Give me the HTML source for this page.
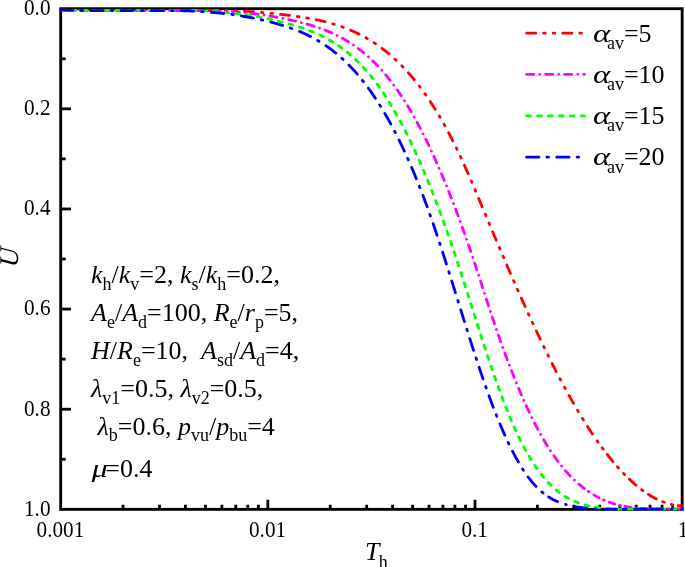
<!DOCTYPE html>
<html><head><meta charset="utf-8"><title>U - Th</title>
<style>
html,body{margin:0;padding:0;background:#fff;}
svg{display:block;}
text{font-family:"Liberation Serif","Times New Roman",serif;fill:#000;}
.t{font-size:22px;}
.m{font-size:26px;}
.i{font-style:italic;}
.s{font-size:18px;font-style:normal;}
</style></head><body>
<svg width="685" height="567" viewBox="0 0 685 567">
<rect x="0" y="0" width="685" height="567" fill="#fff"/>

<g stroke="#000" stroke-width="2.85" fill="none" stroke-linecap="butt">
<rect x="60.7" y="8.7" width="621.45" height="500.65"/>
</g>
<g stroke="#000" stroke-width="2.8" fill="none">
<line x1="123.06" y1="509.35" x2="123.06" y2="504.75"/>
<line x1="159.54" y1="509.35" x2="159.54" y2="504.75"/>
<line x1="185.42" y1="509.35" x2="185.42" y2="504.75"/>
<line x1="205.49" y1="509.35" x2="205.49" y2="504.75"/>
<line x1="221.89" y1="509.35" x2="221.89" y2="504.75"/>
<line x1="235.76" y1="509.35" x2="235.76" y2="504.75"/>
<line x1="247.78" y1="509.35" x2="247.78" y2="504.75"/>
<line x1="258.37" y1="509.35" x2="258.37" y2="504.75"/>
<line x1="267.85" y1="509.35" x2="267.85" y2="499.75"/>
<line x1="330.21" y1="509.35" x2="330.21" y2="504.75"/>
<line x1="366.69" y1="509.35" x2="366.69" y2="504.75"/>
<line x1="392.57" y1="509.35" x2="392.57" y2="504.75"/>
<line x1="412.64" y1="509.35" x2="412.64" y2="504.75"/>
<line x1="429.04" y1="509.35" x2="429.04" y2="504.75"/>
<line x1="442.91" y1="509.35" x2="442.91" y2="504.75"/>
<line x1="454.93" y1="509.35" x2="454.93" y2="504.75"/>
<line x1="465.52" y1="509.35" x2="465.52" y2="504.75"/>
<line x1="475.00" y1="509.35" x2="475.00" y2="499.75"/>
<line x1="537.36" y1="509.35" x2="537.36" y2="504.75"/>
<line x1="573.84" y1="509.35" x2="573.84" y2="504.75"/>
<line x1="599.72" y1="509.35" x2="599.72" y2="504.75"/>
<line x1="619.79" y1="509.35" x2="619.79" y2="504.75"/>
<line x1="636.19" y1="509.35" x2="636.19" y2="504.75"/>
<line x1="650.06" y1="509.35" x2="650.06" y2="504.75"/>
<line x1="662.08" y1="509.35" x2="662.08" y2="504.75"/>
<line x1="672.67" y1="509.35" x2="672.67" y2="504.75"/>
<line x1="60.7" y1="58.77" x2="65.7" y2="58.77"/>
<line x1="60.7" y1="108.83" x2="71.0" y2="108.83"/>
<line x1="60.7" y1="158.89" x2="65.7" y2="158.89"/>
<line x1="60.7" y1="208.96" x2="71.0" y2="208.96"/>
<line x1="60.7" y1="259.02" x2="65.7" y2="259.02"/>
<line x1="60.7" y1="309.09" x2="71.0" y2="309.09"/>
<line x1="60.7" y1="359.16" x2="65.7" y2="359.16"/>
<line x1="60.7" y1="409.22" x2="71.0" y2="409.22"/>
<line x1="60.7" y1="459.29" x2="65.7" y2="459.29"/>
</g>
<clipPath id="c"><rect x="59.300000000000004" y="8.75" width="624.15" height="502.00"/></clipPath>
<g clip-path="url(#c)" fill="none" stroke-width="2.8" stroke-linecap="round" stroke-linejoin="round">
<path d="M60.70,10.02 L62.20,10.06 L63.70,10.09 L65.20,10.12 L66.70,10.15 L68.20,10.18 L69.70,10.20 L71.20,10.23 L72.70,10.25 L74.20,10.27 L75.70,10.29 L77.20,10.30 L78.70,10.32 L80.20,10.33 L81.70,10.34 L83.20,10.35 L84.70,10.36 L86.20,10.36 L87.70,10.37 L89.20,10.37 L90.70,10.38 L92.20,10.38 L93.70,10.38 L95.20,10.38 L96.70,10.38 L98.20,10.38 L99.70,10.38 L101.20,10.38 L102.70,10.38 L104.20,10.38 L105.70,10.38 L107.20,10.38 L108.70,10.38 L110.20,10.38 L111.70,10.38 L113.20,10.38 L114.70,10.38 L116.20,10.38 L117.70,10.38 L119.20,10.38 L120.70,10.38 L122.20,10.38 L123.70,10.38 L125.20,10.38 L126.70,10.38 L128.20,10.38 L129.70,10.38 L131.20,10.38 L132.70,10.38 L134.20,10.38 L135.70,10.38 L137.20,10.38 L138.70,10.38 L140.20,10.38 L141.70,10.38 L143.20,10.38 L144.70,10.38 L146.20,10.38 L147.70,10.38 L149.20,10.38 L150.70,10.38 L152.20,10.38 L153.70,10.38 L155.20,10.38 L156.70,10.38 L158.20,10.38 L159.70,10.38 L161.20,10.38 L162.70,10.38 L164.20,10.38 L165.70,10.38 L167.20,10.38 L168.70,10.38 L170.20,10.38 L171.70,10.38 L173.20,10.38 L174.70,10.38 L176.20,10.38 L177.70,10.38 L179.20,10.38 L180.70,10.38 L182.20,10.38 L183.70,10.38 L185.20,10.38 L186.70,10.38 L188.20,10.38 L189.70,10.38 L191.20,10.38 L192.70,10.38 L194.20,10.38 L195.70,10.38 L197.20,10.38 L198.70,10.38 L200.20,10.38 L201.70,10.38 L203.20,10.38 L204.70,10.38 L206.20,10.38 L207.70,10.38 L209.20,10.38 L210.70,10.38 L212.20,10.38 L213.70,10.38 L215.20,10.38 L216.70,10.38 L218.20,10.38 L219.70,10.38 L221.20,10.38 L222.70,10.38 L224.20,10.38 L225.70,10.38 L227.20,10.42 L228.70,10.47 L230.19,10.53 L231.69,10.60 L233.19,10.66 L234.69,10.73 L236.19,10.80 L237.69,10.87 L239.18,10.95 L240.68,11.03 L242.18,11.11 L243.68,11.20 L245.18,11.28 L246.67,11.37 L248.17,11.47 L249.67,11.57 L251.16,11.67 L252.66,11.77 L254.16,11.87 L255.65,11.98 L257.15,12.10 L258.64,12.21 L260.14,12.33 L261.63,12.45 L263.13,12.58 L264.62,12.71 L266.12,12.84 L267.61,12.98 L269.10,13.12 L270.60,13.26 L272.09,13.41 L273.58,13.56 L275.07,13.72 L276.57,13.88 L278.06,14.04 L279.55,14.20 L281.04,14.37 L282.53,14.55 L284.02,14.72 L285.51,14.91 L286.99,15.09 L288.48,15.28 L289.97,15.48 L291.46,15.67 L292.94,15.88 L294.43,16.08 L295.91,16.29 L297.40,16.51 L298.88,16.73 L300.37,16.95 L301.85,17.18 L303.33,17.41 L304.81,17.65 L306.29,17.90 L307.77,18.15 L309.25,18.41 L310.72,18.68 L312.20,18.96 L313.67,19.24 L315.14,19.53 L316.61,19.83 L318.08,20.14 L319.54,20.46 L321.01,20.79 L322.47,21.12 L323.93,21.47 L325.38,21.83 L326.84,22.20 L328.29,22.58 L329.74,22.97 L331.18,23.38 L332.62,23.79 L334.06,24.22 L335.50,24.66 L336.93,25.11 L338.35,25.57 L339.77,26.05 L341.19,26.54 L342.60,27.05 L344.01,27.56 L345.42,28.09 L346.81,28.64 L348.21,29.19 L349.59,29.76 L350.98,30.35 L352.35,30.94 L353.72,31.56 L355.09,32.18 L356.44,32.82 L357.79,33.47 L359.14,34.14 L360.47,34.82 L361.80,35.51 L363.13,36.22 L364.44,36.94 L365.75,37.67 L367.05,38.42 L368.35,39.18 L369.63,39.95 L370.91,40.74 L372.18,41.54 L373.44,42.35 L374.69,43.17 L375.94,44.01 L377.18,44.86 L378.40,45.72 L379.62,46.59 L380.84,47.47 L382.04,48.37 L383.24,49.27 L384.42,50.19 L385.60,51.12 L386.77,52.06 L387.93,53.01 L389.08,53.97 L390.23,54.94 L391.36,55.92 L392.49,56.91 L393.61,57.91 L394.72,58.92 L395.82,59.94 L396.91,60.97 L397.99,62.00 L399.07,63.05 L400.13,64.10 L401.19,65.17 L402.24,66.24 L403.28,67.32 L404.32,68.40 L405.34,69.50 L406.36,70.60 L407.37,71.71 L408.37,72.83 L409.36,73.95 L410.35,75.08 L411.33,76.22 L412.30,77.37 L413.26,78.52 L414.21,79.67 L415.16,80.84 L416.10,82.01 L417.03,83.18 L417.96,84.36 L418.87,85.55 L419.79,86.74 L420.69,87.94 L421.59,89.14 L422.48,90.35 L423.36,91.56 L424.23,92.78 L425.10,94.00 L425.97,95.23 L426.82,96.46 L427.67,97.70 L428.52,98.94 L429.35,100.18 L430.19,101.43 L431.01,102.68 L431.83,103.94 L432.64,105.20 L433.45,106.46 L434.25,107.73 L435.05,109.00 L435.84,110.28 L436.62,111.56 L437.40,112.84 L438.17,114.12 L438.94,115.41 L439.71,116.70 L440.46,118.00 L441.22,119.29 L441.96,120.60 L442.71,121.90 L443.44,123.20 L444.18,124.51 L444.90,125.83 L445.63,127.14 L446.34,128.46 L447.06,129.78 L447.77,131.10 L448.47,132.42 L449.17,133.75 L449.87,135.08 L450.56,136.41 L451.24,137.74 L451.93,139.08 L452.60,140.42 L453.28,141.76 L453.95,143.10 L454.61,144.44 L455.28,145.79 L455.93,147.14 L456.59,148.49 L457.24,149.84 L457.88,151.19 L458.53,152.55 L459.17,153.91 L459.80,155.26 L460.43,156.62 L461.06,157.99 L461.69,159.35 L462.31,160.71 L462.94,162.08 L463.55,163.44 L464.17,164.81 L464.78,166.18 L465.39,167.55 L466.00,168.92 L466.61,170.29 L467.21,171.67 L467.82,173.04 L468.42,174.41 L469.02,175.79 L469.62,177.16 L470.21,178.54 L470.81,179.92 L471.40,181.30 L471.99,182.67 L472.58,184.05 L473.17,185.43 L473.76,186.81 L474.35,188.19 L474.93,189.57 L475.52,190.95 L476.10,192.34 L476.69,193.72 L477.27,195.10 L477.85,196.48 L478.43,197.87 L479.01,199.25 L479.59,200.63 L480.17,202.01 L480.75,203.40 L481.33,204.78 L481.91,206.16 L482.49,207.55 L483.07,208.93 L483.65,210.32 L484.23,211.70 L484.81,213.08 L485.39,214.47 L485.97,215.85 L486.55,217.23 L487.13,218.62 L487.71,220.00 L488.29,221.38 L488.87,222.77 L489.45,224.15 L490.03,225.53 L490.62,226.91 L491.20,228.30 L491.78,229.68 L492.36,231.06 L492.95,232.44 L493.53,233.82 L494.11,235.21 L494.70,236.59 L495.28,237.97 L495.87,239.35 L496.45,240.73 L497.04,242.11 L497.62,243.49 L498.21,244.87 L498.80,246.26 L499.38,247.64 L499.97,249.02 L500.56,250.40 L501.15,251.78 L501.74,253.15 L502.33,254.53 L502.92,255.91 L503.51,257.29 L504.10,258.67 L504.69,260.05 L505.28,261.43 L505.87,262.81 L506.47,264.18 L507.06,265.56 L507.65,266.94 L508.25,268.32 L508.84,269.69 L509.44,271.07 L510.04,272.44 L510.63,273.82 L511.23,275.20 L511.83,276.57 L512.43,277.95 L513.03,279.32 L513.63,280.70 L514.23,282.07 L514.83,283.44 L515.44,284.82 L516.04,286.19 L516.65,287.56 L517.25,288.94 L517.86,290.31 L518.46,291.68 L519.07,293.05 L519.68,294.42 L520.29,295.79 L520.90,297.16 L521.51,298.53 L522.12,299.90 L522.73,301.27 L523.35,302.64 L523.96,304.01 L524.58,305.38 L525.19,306.74 L525.81,308.11 L526.43,309.48 L527.05,310.84 L527.67,312.21 L528.29,313.57 L528.92,314.94 L529.54,316.30 L530.16,317.67 L530.79,319.03 L531.42,320.39 L532.04,321.75 L532.67,323.12 L533.30,324.48 L533.94,325.84 L534.57,327.20 L535.20,328.56 L535.84,329.92 L536.48,331.27 L537.11,332.63 L537.75,333.99 L538.39,335.34 L539.04,336.70 L539.68,338.06 L540.32,339.41 L540.97,340.76 L541.62,342.12 L542.27,343.47 L542.92,344.82 L543.57,346.17 L544.22,347.52 L544.88,348.87 L545.54,350.22 L546.19,351.57 L546.85,352.91 L547.52,354.26 L548.18,355.61 L548.85,356.95 L549.51,358.29 L550.18,359.64 L550.85,360.98 L551.52,362.32 L552.20,363.66 L552.87,365.00 L553.55,366.34 L554.23,367.67 L554.91,369.01 L555.60,370.34 L556.28,371.68 L556.97,373.01 L557.66,374.34 L558.35,375.67 L559.05,377.00 L559.75,378.33 L560.44,379.66 L561.15,380.98 L561.85,382.31 L562.56,383.63 L563.26,384.95 L563.98,386.27 L564.69,387.59 L565.41,388.91 L566.12,390.23 L566.84,391.54 L567.57,392.86 L568.30,394.17 L569.02,395.48 L569.76,396.79 L570.49,398.10 L571.23,399.40 L571.97,400.71 L572.71,402.01 L573.46,403.31 L574.21,404.61 L574.96,405.91 L575.72,407.20 L576.48,408.50 L577.24,409.79 L578.01,411.08 L578.77,412.37 L579.55,413.65 L580.32,414.94 L581.10,416.22 L581.88,417.50 L582.67,418.78 L583.46,420.05 L584.25,421.32 L585.05,422.60 L585.85,423.86 L586.66,425.13 L587.46,426.39 L588.28,427.65 L589.09,428.91 L589.91,430.17 L590.74,431.42 L591.57,432.67 L592.40,433.92 L593.24,435.16 L594.08,436.40 L594.93,437.64 L595.50,438.46" stroke="#ff0000" stroke-dasharray="9.1 7.95 1.6 7.95 1.6 7.95" stroke-dashoffset="-3.0"/>
<path d="M595.50,438.46 L596.35,439.70 L597.21,440.93 L598.08,442.15 L598.94,443.37 L599.82,444.59 L600.70,445.81 L601.58,447.02 L602.47,448.23 L603.37,449.43 L604.27,450.63 L605.18,451.83 L606.09,453.02 L607.01,454.20 L607.93,455.38 L608.86,456.56 L609.80,457.73 L610.74,458.90 L611.69,460.06 L612.64,461.22 L613.60,462.37 L614.57,463.51 L615.55,464.65 L616.53,465.79 L617.52,466.91 L618.52,468.03 L619.52,469.15 L620.54,470.25 L621.56,471.35 L622.59,472.44 L623.62,473.53 L624.67,474.60 L625.72,475.67 L626.78,476.73 L627.86,477.78 L628.94,478.82 L630.03,479.85 L631.13,480.87 L632.23,481.88 L633.35,482.88 L634.48,483.87 L635.62,484.85 L636.77,485.81 L637.93,486.76 L639.10,487.70 L640.28,488.63 L641.47,489.54 L642.68,490.43 L643.89,491.31 L645.12,492.17 L646.36,493.02 L647.61,493.84 L648.87,494.65 L650.15,495.44 L651.44,496.21 L652.74,496.96 L654.05,497.69 L655.37,498.39 L656.71,499.07 L658.06,499.72 L659.42,500.35 L660.80,500.95 L662.19,501.52 L663.58,502.06 L664.99,502.57 L666.42,503.05 L667.85,503.50 L669.29,503.91 L670.74,504.29 L672.20,504.63 L673.67,504.93 L675.15,505.20 L676.63,505.42 L678.12,505.61 L679.61,505.75 L681.11,505.86 L682.61,505.92 L682.64,505.92" stroke="#ff0000" stroke-dasharray="1.6 7.0 1.6 6.75 9.1 6.85 1.6 7.4 1.6 6.55 9.1 7.15 1.6 6.65 9.1 7.05 1.6 7.35 1.6 5.4 9.1 60" stroke-dashoffset="-2.90"/>
<path d="M60.70,9.90 L62.20,9.92 L63.70,9.98 L65.20,10.04 L66.70,10.09 L68.20,10.14 L69.69,10.19 L71.19,10.23 L72.69,10.27 L74.19,10.31 L75.69,10.34 L77.19,10.38 L78.69,10.40 L80.19,10.43 L81.69,10.46 L83.19,10.48 L84.69,10.50 L86.19,10.51 L87.69,10.53 L89.19,10.54 L90.69,10.55 L92.19,10.56 L93.69,10.56 L95.19,10.56 L96.69,10.57 L98.19,10.57 L99.69,10.57 L101.19,10.57 L102.69,10.57 L104.19,10.57 L105.69,10.57 L107.19,10.57 L108.69,10.57 L110.19,10.57 L111.69,10.57 L113.19,10.57 L114.69,10.57 L116.19,10.57 L117.69,10.57 L119.19,10.57 L120.69,10.57 L122.19,10.57 L123.69,10.57 L125.19,10.57 L126.69,10.57 L128.19,10.57 L129.69,10.57 L131.19,10.57 L132.69,10.57 L134.19,10.57 L135.69,10.57 L137.19,10.57 L138.69,10.57 L140.19,10.57 L141.69,10.57 L143.19,10.57 L144.69,10.57 L146.19,10.57 L147.69,10.57 L149.19,10.57 L150.69,10.57 L152.19,10.57 L153.69,10.57 L155.19,10.57 L156.69,10.57 L158.19,10.57 L159.69,10.57 L161.19,10.57 L162.69,10.57 L164.19,10.57 L165.69,10.57 L167.19,10.57 L168.69,10.57 L170.19,10.57 L171.69,10.57 L173.19,10.57 L174.69,10.57 L176.19,10.57 L177.69,10.57 L179.19,10.57 L180.69,10.57 L182.19,10.57 L183.69,10.57 L185.19,10.57 L186.69,10.57 L188.19,10.57 L189.69,10.57 L191.19,10.57 L192.69,10.57 L194.19,10.57 L195.69,10.57 L197.19,10.57 L198.69,10.57 L200.19,10.57 L201.69,10.57 L203.19,10.57 L204.69,10.57 L206.19,10.57 L207.69,10.57 L209.19,10.57 L210.69,10.57 L212.19,10.57 L213.69,10.57 L215.19,10.57 L216.69,10.59 L218.19,10.66 L219.69,10.74 L221.18,10.82 L222.68,10.91 L224.18,11.00 L225.68,11.10 L227.17,11.19 L228.67,11.30 L230.17,11.40 L231.66,11.51 L233.16,11.63 L234.65,11.75 L236.15,11.87 L237.64,12.00 L239.14,12.13 L240.63,12.27 L242.12,12.41 L243.62,12.56 L245.11,12.71 L246.60,12.87 L248.09,13.03 L249.58,13.19 L251.07,13.36 L252.56,13.54 L254.05,13.72 L255.54,13.91 L257.03,14.10 L258.51,14.30 L260.00,14.50 L261.49,14.71 L262.97,14.92 L264.45,15.14 L265.94,15.37 L267.42,15.60 L268.90,15.83 L270.38,16.07 L271.86,16.32 L273.34,16.58 L274.82,16.84 L276.29,17.10 L277.77,17.37 L279.24,17.65 L280.72,17.93 L282.19,18.22 L283.66,18.52 L285.13,18.82 L286.59,19.13 L288.06,19.44 L289.53,19.76 L290.99,20.09 L292.45,20.42 L293.91,20.76 L295.37,21.11 L296.83,21.46 L298.29,21.82 L299.74,22.19 L301.20,22.56 L302.65,22.94 L304.10,23.33 L305.54,23.72 L306.99,24.12 L308.43,24.53 L309.87,24.95 L311.31,25.38 L312.74,25.82 L314.17,26.27 L315.60,26.73 L317.02,27.21 L318.44,27.69 L319.86,28.18 L321.27,28.69 L322.68,29.21 L324.08,29.74 L325.48,30.29 L326.87,30.85 L328.26,31.42 L329.64,32.00 L331.02,32.60 L332.38,33.21 L333.75,33.84 L335.10,34.48 L336.45,35.14 L337.80,35.80 L339.13,36.49 L340.46,37.19 L341.78,37.90 L343.09,38.63 L344.39,39.37 L345.69,40.12 L346.98,40.89 L348.26,41.67 L349.53,42.47 L350.79,43.28 L352.04,44.11 L353.29,44.95 L354.52,45.80 L355.74,46.67 L356.96,47.54 L358.17,48.44 L359.36,49.34 L360.55,50.26 L361.73,51.19 L362.90,52.13 L364.05,53.08 L365.20,54.04 L366.34,55.02 L367.47,56.01 L368.59,57.01 L369.70,58.02 L370.80,59.03 L371.89,60.06 L372.97,61.10 L374.05,62.15 L375.11,63.21 L376.16,64.28 L377.20,65.36 L378.24,66.44 L379.26,67.54 L380.28,68.64 L381.29,69.75 L382.28,70.87 L383.27,72.00 L384.25,73.14 L385.23,74.28 L386.19,75.43 L387.14,76.59 L388.09,77.75 L389.03,78.92 L389.96,80.10 L390.88,81.28 L391.79,82.47 L392.70,83.67 L393.60,84.87 L394.49,86.08 L395.37,87.29 L396.25,88.51 L397.11,89.73 L397.97,90.96 L398.83,92.19 L399.67,93.43 L400.51,94.67 L401.34,95.92 L402.17,97.17 L402.99,98.43 L403.80,99.69 L404.61,100.96 L405.41,102.23 L406.20,103.50 L406.99,104.78 L407.77,106.06 L408.54,107.34 L409.31,108.63 L410.07,109.92 L410.83,111.22 L411.58,112.51 L412.33,113.81 L413.07,115.12 L413.81,116.42 L414.54,117.73 L415.27,119.04 L415.99,120.36 L416.71,121.68 L417.42,123.00 L418.13,124.32 L418.84,125.64 L419.54,126.97 L420.23,128.30 L420.92,129.63 L421.61,130.96 L422.29,132.30 L422.97,133.64 L423.65,134.98 L424.32,136.32 L424.99,137.66 L425.65,139.00 L426.31,140.35 L426.97,141.70 L427.62,143.05 L428.27,144.40 L428.92,145.76 L429.56,147.11 L430.20,148.47 L430.84,149.83 L431.47,151.19 L432.10,152.55 L432.73,153.91 L433.35,155.28 L433.97,156.64 L434.59,158.01 L435.20,159.38 L435.81,160.75 L436.42,162.12 L437.03,163.49 L437.63,164.86 L438.23,166.24 L438.83,167.61 L439.43,168.99 L440.02,170.37 L440.61,171.75 L441.20,173.13 L441.78,174.51 L442.36,175.89 L442.94,177.27 L443.52,178.66 L444.10,180.04 L444.67,181.43 L445.24,182.82 L445.81,184.20 L446.37,185.59 L446.94,186.98 L447.50,188.37 L448.06,189.77 L448.61,191.16 L449.17,192.55 L449.72,193.95 L450.27,195.34 L450.82,196.74 L451.37,198.14 L451.91,199.53 L452.46,200.93 L453.00,202.33 L453.54,203.73 L454.07,205.13 L454.61,206.53 L455.14,207.93 L455.67,209.34 L456.20,210.74 L456.73,212.14 L457.25,213.55 L457.78,214.96 L458.30,216.36 L458.82,217.77 L459.34,219.18 L459.86,220.58 L460.37,221.99 L460.89,223.40 L461.40,224.81 L461.91,226.22 L462.42,227.63 L462.92,229.04 L463.43,230.46 L463.93,231.87 L464.44,233.28 L464.94,234.70 L465.44,236.11 L465.93,237.53 L466.43,238.94 L466.93,240.36 L467.42,241.77 L467.91,243.19 L468.40,244.61 L468.89,246.03 L469.38,247.45 L469.86,248.86 L470.35,250.28 L470.83,251.70 L471.32,253.12 L471.80,254.55 L472.28,255.97 L472.75,257.39 L473.23,258.81 L473.71,260.23 L474.18,261.66 L474.65,263.08 L475.13,264.50 L475.60,265.93 L476.07,267.35 L476.53,268.78 L477.00,270.20 L477.47,271.63 L477.93,273.05 L478.40,274.48 L478.86,275.91 L479.32,277.33 L479.78,278.76 L480.24,280.19 L480.71,281.62 L481.17,283.04 L481.63,284.47 L482.09,285.90 L482.55,287.33 L483.01,288.76 L483.47,290.18 L483.92,291.61 L484.38,293.04 L484.85,294.47 L485.31,295.89 L485.77,297.32 L486.23,298.75 L486.69,300.18 L487.15,301.60 L487.62,303.03 L488.08,304.46 L488.54,305.88 L489.01,307.31 L489.48,308.73 L489.95,310.16 L490.42,311.58 L490.89,313.01 L491.36,314.43 L491.83,315.85 L492.31,317.28 L492.78,318.70 L493.26,320.12 L493.74,321.54 L494.22,322.96 L494.70,324.38 L495.18,325.80 L495.67,327.22 L496.15,328.64 L496.64,330.06 L497.13,331.48 L497.62,332.90 L498.12,334.31 L498.61,335.73 L499.11,337.15 L499.60,338.56 L500.10,339.98 L500.60,341.39 L501.11,342.80 L501.61,344.21 L502.12,345.63 L502.62,347.04 L503.13,348.45 L503.65,349.86 L504.16,351.27 L504.68,352.68 L505.19,354.08 L505.71,355.49 L506.23,356.90 L506.76,358.30 L507.29,359.71 L507.81,361.11 L508.34,362.51 L508.88,363.92 L509.41,365.32 L509.95,366.72 L510.49,368.12 L511.03,369.52 L511.58,370.91 L512.12,372.31 L512.67,373.71 L513.22,375.10 L513.78,376.50 L514.34,377.89 L514.90,379.28 L515.46,380.67 L516.03,382.06 L516.59,383.45 L517.16,384.83 L517.74,386.22 L518.32,387.60 L518.90,388.99 L519.48,390.37 L520.07,391.75 L520.66,393.13 L521.25,394.51 L521.84,395.88 L522.44,397.26 L523.05,398.63 L523.65,400.00 L524.26,401.37 L524.88,402.74 L525.49,404.11 L526.12,405.48 L526.74,406.84 L527.37,408.20 L528.00,409.56 L528.64,410.92 L529.28,412.28 L529.93,413.63 L530.58,414.98 L531.23,416.33 L531.89,417.68 L532.55,419.02 L533.22,420.37 L533.90,421.71 L534.58,423.04 L535.26,424.38 L535.95,425.71 L536.64,427.04 L537.34,428.37 L538.05,429.69 L538.76,431.01 L539.48,432.33 L540.20,433.64 L540.93,434.95 L541.67,436.26 L542.41,437.56 L543.16,438.86 L543.92,440.16 L544.68,441.45 L545.45,442.73 L546.23,444.02 L547.02,445.29 L547.81,446.57 L548.61,447.83 L549.42,449.10 L550.24,450.35 L551.07,451.61 L551.90,452.85 L552.74,454.09 L553.59,455.33 L554.45,456.56 L555.32,457.78 L556.20,459.00 L557.09,460.21 L557.98,461.41 L558.89,462.60 L559.81,463.79 L560.73,464.97 L561.67,466.14 L562.62,467.31 L563.58,468.46 L564.54,469.61 L565.52,470.74 L566.51,471.87 L567.51,472.99 L568.53,474.09 L569.55,475.19 L570.59,476.27 L571.63,477.35 L572.69,478.41 L573.77,479.46 L574.85,480.49 L575.95,481.52 L577.06,482.53 L578.18,483.52 L579.31,484.51 L580.46,485.47 L581.62,486.42 L582.79,487.36 L583.98,488.28 L585.00,489.05" stroke="#ff00ff" stroke-dasharray="7.1 5.95 0.01 5.95" stroke-dashoffset="-0.5"/>
<path d="M585.00,489.05 L586.21,489.94 L587.43,490.81 L588.67,491.66 L589.91,492.49 L591.17,493.30 L592.45,494.10 L593.73,494.87 L595.03,495.63 L596.34,496.36 L597.66,497.07 L598.99,497.76 L600.33,498.43 L601.69,499.08 L603.05,499.70 L604.42,500.30 L605.81,500.88 L607.20,501.44 L608.60,501.97 L610.01,502.48 L611.43,502.97 L612.86,503.44 L614.29,503.88 L615.73,504.30 L617.18,504.70 L618.63,505.08 L620.08,505.43 L621.55,505.76 L623.01,506.08 L624.48,506.37 L625.96,506.64 L627.44,506.90 L628.92,507.13 L630.40,507.35 L631.89,507.55 L633.38,507.73 L634.87,507.90 L636.36,508.05 L637.86,508.19 L639.35,508.31 L640.85,508.42 L642.34,508.51 L643.84,508.59 L645.34,508.67 L646.84,508.73 L648.34,508.78 L649.84,508.82 L651.34,508.86 L652.84,508.89 L654.34,508.91 L655.84,508.92 L657.34,508.93 L658.84,508.94 L660.34,508.94 L661.84,508.94 L663.34,508.94 L664.84,508.94 L666.34,508.94 L667.84,508.94 L669.34,508.94 L670.84,508.94 L672.34,508.94 L673.84,508.94 L675.34,508.94 L676.84,508.95 L678.34,508.97 L679.84,509.00 L681.34,509.03 L682.64,509.07" stroke="#ff00ff" stroke-dasharray="0.8 5.88 5.87 4.97 0.8 5.32 5.73 5.13 0.8 4.69 6.12 4.72 0.8 4.21 6.61 4.6 0.8 4.2 6.6 4.6 0.8 4.2 6.6 2.54 0.8 80" stroke-dashoffset="-4.02"/>
<path d="M60.70,9.90 L62.20,9.96 L63.70,10.01 L65.20,10.06 L66.70,10.11 L68.20,10.16 L69.69,10.20 L71.19,10.24 L72.69,10.28 L74.19,10.31 L75.69,10.34 L77.19,10.37 L78.69,10.39 L80.19,10.41 L81.69,10.43 L83.19,10.45 L84.69,10.47 L86.19,10.48 L87.69,10.49 L89.19,10.50 L90.69,10.50 L92.19,10.51 L93.69,10.51 L95.19,10.51 L96.69,10.51 L98.19,10.51 L99.69,10.51 L101.19,10.51 L102.69,10.51 L104.19,10.51 L105.69,10.51 L107.19,10.51 L108.69,10.51 L110.19,10.51 L111.69,10.51 L113.19,10.51 L114.69,10.51 L116.19,10.51 L117.69,10.51 L119.19,10.51 L120.69,10.51 L122.19,10.51 L123.69,10.51 L125.19,10.51 L126.69,10.51 L128.19,10.51 L129.69,10.51 L131.19,10.51 L132.69,10.51 L134.19,10.51 L135.69,10.51 L137.19,10.51 L138.69,10.51 L140.19,10.51 L141.69,10.51 L143.19,10.51 L144.69,10.51 L146.19,10.51 L147.69,10.51 L149.19,10.51 L150.69,10.51 L152.19,10.51 L153.69,10.51 L155.19,10.51 L156.69,10.51 L158.19,10.51 L159.69,10.51 L161.19,10.51 L162.69,10.51 L164.19,10.51 L165.69,10.51 L167.19,10.51 L168.69,10.51 L170.19,10.51 L171.69,10.51 L173.19,10.51 L174.69,10.51 L176.19,10.51 L177.69,10.51 L179.19,10.51 L180.69,10.51 L182.19,10.51 L183.69,10.51 L185.19,10.51 L186.69,10.51 L188.19,10.51 L189.69,10.51 L191.19,10.51 L192.69,10.51 L194.19,10.51 L195.69,10.51 L197.19,10.52 L198.69,10.59 L200.19,10.65 L201.69,10.72 L203.19,10.80 L204.68,10.88 L206.18,10.96 L207.68,11.05 L209.18,11.14 L210.67,11.23 L212.17,11.33 L213.67,11.43 L215.16,11.54 L216.66,11.65 L218.15,11.77 L219.65,11.89 L221.14,12.01 L222.64,12.15 L224.13,12.28 L225.63,12.42 L227.12,12.57 L228.61,12.72 L230.10,12.87 L231.59,13.03 L233.08,13.20 L234.57,13.37 L236.06,13.55 L237.55,13.73 L239.04,13.92 L240.53,14.11 L242.02,14.31 L243.50,14.51 L244.99,14.72 L246.47,14.94 L247.95,15.16 L249.44,15.39 L250.92,15.62 L252.40,15.86 L253.88,16.11 L255.36,16.36 L256.84,16.61 L258.31,16.88 L259.79,17.15 L261.26,17.42 L262.74,17.71 L264.21,17.99 L265.68,18.29 L267.15,18.59 L268.62,18.90 L270.08,19.21 L271.55,19.53 L273.01,19.86 L274.48,20.19 L275.94,20.53 L277.40,20.87 L278.85,21.23 L280.31,21.59 L281.77,21.95 L283.22,22.32 L284.67,22.70 L286.12,23.09 L287.57,23.48 L289.01,23.88 L290.46,24.28 L291.90,24.69 L293.34,25.11 L294.78,25.54 L296.21,25.98 L297.65,26.42 L299.08,26.87 L300.50,27.33 L301.93,27.81 L303.35,28.29 L304.76,28.78 L306.18,29.29 L307.58,29.81 L308.99,30.34 L310.39,30.88 L311.78,31.43 L313.17,32.00 L314.55,32.58 L315.93,33.18 L317.30,33.78 L318.67,34.41 L320.02,35.04 L321.38,35.69 L322.72,36.36 L324.06,37.04 L325.39,37.73 L326.71,38.44 L328.02,39.16 L329.33,39.90 L330.63,40.65 L331.91,41.42 L333.19,42.20 L334.47,43.00 L335.73,43.81 L336.98,44.64 L338.22,45.48 L339.46,46.33 L340.68,47.20 L341.90,48.08 L343.10,48.97 L344.30,49.88 L345.48,50.80 L346.65,51.73 L347.82,52.67 L348.97,53.63 L350.12,54.60 L351.25,55.58 L352.38,56.58 L353.49,57.58 L354.59,58.60 L355.69,59.62 L356.77,60.66 L357.85,61.71 L358.91,62.77 L359.96,63.83 L361.01,64.91 L362.04,66.00 L363.07,67.09 L364.08,68.20 L365.09,69.31 L366.08,70.43 L367.07,71.56 L368.05,72.70 L369.02,73.84 L369.98,75.00 L370.93,76.16 L371.87,77.32 L372.80,78.50 L373.73,79.68 L374.64,80.87 L375.55,82.06 L376.45,83.26 L377.34,84.47 L378.22,85.68 L379.10,86.90 L379.97,88.12 L380.83,89.35 L381.68,90.59 L382.52,91.83 L383.36,93.07 L384.19,94.32 L385.02,95.57 L385.83,96.83 L386.64,98.09 L387.45,99.36 L388.25,100.63 L389.04,101.90 L389.82,103.18 L390.60,104.46 L391.38,105.75 L392.14,107.03 L392.91,108.33 L393.67,109.62 L394.42,110.92 L395.16,112.22 L395.91,113.52 L396.64,114.83 L397.37,116.14 L398.10,117.45 L398.82,118.77 L399.54,120.08 L400.25,121.40 L400.96,122.73 L401.67,124.05 L402.36,125.38 L403.06,126.71 L403.75,128.04 L404.44,129.37 L405.12,130.71 L405.80,132.04 L406.47,133.38 L407.15,134.73 L407.81,136.07 L408.48,137.41 L409.14,138.76 L409.79,140.11 L410.45,141.46 L411.09,142.81 L411.74,144.17 L412.38,145.52 L413.02,146.88 L413.66,148.24 L414.29,149.60 L414.92,150.96 L415.55,152.32 L416.17,153.69 L416.79,155.05 L417.41,156.42 L418.02,157.79 L418.63,159.16 L419.24,160.53 L419.84,161.90 L420.45,163.28 L421.05,164.65 L421.64,166.03 L422.24,167.40 L422.83,168.78 L423.42,170.16 L424.00,171.54 L424.59,172.93 L425.17,174.31 L425.75,175.69 L426.32,177.08 L426.90,178.46 L427.47,179.85 L428.04,181.24 L428.60,182.63 L429.17,184.02 L429.73,185.41 L430.29,186.80 L430.85,188.19 L431.40,189.58 L431.96,190.98 L432.51,192.37 L433.06,193.77 L433.60,195.17 L434.15,196.56 L434.69,197.96 L435.23,199.36 L435.77,200.76 L436.31,202.16 L436.84,203.56 L437.38,204.97 L437.91,206.37 L438.44,207.77 L438.96,209.18 L439.49,210.58 L440.01,211.99 L440.53,213.39 L441.05,214.80 L441.57,216.21 L442.09,217.62 L442.60,219.03 L443.11,220.44 L443.62,221.85 L444.13,223.26 L444.64,224.67 L445.15,226.08 L445.65,227.49 L446.15,228.91 L446.65,230.32 L447.15,231.73 L447.65,233.15 L448.15,234.57 L448.64,235.98 L449.14,237.40 L449.63,238.81 L450.12,240.23 L450.61,241.65 L451.09,243.07 L451.58,244.49 L452.06,245.91 L452.55,247.33 L453.03,248.75 L453.51,250.17 L453.99,251.59 L454.46,253.01 L454.94,254.44 L455.41,255.86 L455.89,257.28 L456.36,258.71 L456.83,260.13 L457.30,261.56 L457.77,262.98 L458.23,264.41 L458.70,265.83 L459.17,267.26 L459.63,268.68 L460.09,270.11 L460.56,271.54 L461.02,272.97 L461.48,274.39 L461.94,275.82 L462.40,277.25 L462.86,278.68 L463.31,280.11 L463.77,281.53 L464.23,282.96 L464.68,284.39 L465.14,285.82 L465.59,287.25 L466.05,288.68 L466.50,290.11 L466.96,291.54 L467.41,292.97 L467.86,294.40 L468.32,295.83 L468.77,297.26 L469.22,298.69 L469.67,300.12 L470.13,301.55 L470.58,302.98 L471.03,304.41 L471.48,305.84 L471.93,307.27 L472.39,308.70 L472.84,310.13 L473.29,311.56 L473.74,312.99 L474.19,314.42 L474.65,315.85 L475.10,317.28 L475.55,318.71 L476.01,320.14 L476.46,321.57 L476.91,323.00 L477.37,324.43 L477.82,325.86 L478.28,327.29 L478.74,328.72 L479.19,330.15 L479.65,331.57 L480.11,333.00 L480.56,334.43 L481.02,335.86 L481.48,337.29 L481.94,338.72 L482.40,340.14 L482.87,341.57 L483.33,343.00 L483.79,344.42 L484.26,345.85 L484.72,347.27 L485.19,348.70 L485.66,350.13 L486.13,351.55 L486.60,352.97 L487.07,354.40 L487.54,355.82 L488.01,357.25 L488.49,358.67 L488.97,360.09 L489.44,361.51 L489.92,362.93 L490.40,364.36 L490.88,365.78 L491.37,367.20 L491.85,368.62 L492.34,370.04 L492.82,371.45 L493.31,372.87 L493.81,374.29 L494.30,375.71 L494.79,377.12 L495.29,378.54 L495.79,379.95 L496.29,381.37 L496.79,382.78 L497.29,384.19 L497.80,385.60 L498.31,387.02 L498.82,388.43 L499.33,389.84 L499.85,391.24 L500.37,392.65 L500.89,394.06 L501.41,395.46 L501.93,396.87 L502.46,398.27 L502.99,399.68 L503.53,401.08 L504.06,402.48 L504.60,403.88 L505.15,405.28 L505.69,406.67 L506.24,408.07 L506.79,409.46 L507.35,410.86 L507.91,412.25 L508.47,413.64 L509.04,415.03 L509.61,416.42 L510.19,417.80 L510.77,419.18 L511.35,420.57 L511.94,421.95 L512.53,423.32 L513.13,424.70 L513.73,426.07 L514.34,427.44 L514.96,428.81 L515.58,430.18 L516.20,431.54 L516.83,432.90 L517.47,434.26 L518.11,435.61 L518.76,436.97 L519.42,438.32 L520.08,439.66 L520.75,441.00 L521.43,442.34 L522.11,443.68 L522.80,445.01 L523.50,446.34 L524.21,447.66 L524.92,448.98 L525.64,450.29 L526.37,451.60 L527.11,452.91 L527.86,454.21 L528.61,455.51 L529.38,456.80 L530.15,458.08 L530.93,459.36 L531.73,460.63 L532.53,461.90 L533.34,463.16 L534.17,464.42 L535.00,465.66 L535.85,466.90 L536.70,468.13 L537.57,469.36 L538.45,470.57 L539.34,471.78 L540.25,472.97 L541.16,474.16 L542.09,475.34 L543.04,476.50 L544.00,477.66 L544.97,478.80 L545.95,479.93 L546.95,481.05 L547.97,482.15 L549.00,483.24 L550.05,484.32 L551.11,485.37 L552.19,486.42 L553.29,487.44 L554.40,488.45 L555.53,489.43 L556.67,490.40 L557.84,491.35 L559.02,492.27 L560.22,493.17 L561.44,494.04 L562.67,494.89 L563.93,495.72 L565.20,496.52 L566.48,497.29 L567.79,498.03 L569.11,498.75 L570.44,499.43 L571.79,500.09 L573.15,500.72 L574.52,501.32 L575.91,501.89 L577.31,502.43 L578.72,502.95 L580.14,503.44 L581.56,503.90 L583.00,504.33 L584.44,504.74 L585.89,505.13 L587.35,505.49 L588.81,505.83 L590.27,506.15 L591.74,506.45 L593.22,506.74 L594.69,507.01 L596.17,507.26 L597.65,507.49 L599.14,507.70 L600.62,507.90 L602.11,508.09 L603.60,508.26 L605.10,508.41 L606.59,508.55 L608.08,508.67 L609.58,508.79 L611.08,508.88 L612.57,508.97 L614.07,509.05 L615.57,509.11 L617.07,509.17 L618.57,509.20 L620.07,509.20 L621.57,509.20 L623.07,509.20 L624.57,509.20 L626.07,509.20 L627.57,509.20 L629.07,509.20 L630.57,509.20 L632.07,509.20 L633.57,509.20 L635.07,509.20 L636.57,509.20 L638.07,509.20 L639.57,509.20 L641.07,509.20 L642.57,509.20 L644.07,509.20 L645.57,509.20 L647.07,509.20 L648.57,509.20 L650.07,509.20 L651.57,509.20 L653.07,509.20 L654.57,509.20 L656.07,509.20 L657.57,509.20 L659.07,509.20 L660.57,509.20 L662.07,509.20 L663.57,509.20 L665.07,509.20 L666.57,509.20 L668.07,509.20 L669.57,509.20 L671.07,509.20 L672.57,509.20 L674.07,509.20 L675.57,509.20 L677.07,509.20 L678.57,509.20 L680.07,509.20 L681.57,509.20 L682.64,509.20" stroke="#00ff00" stroke-dasharray="4.0 6.9" stroke-dashoffset="-0.6"/>
<path d="M60.70,9.90 L62.20,9.90 L63.70,9.97 L65.20,10.03 L66.70,10.09 L68.20,10.14 L69.69,10.19 L71.19,10.24 L72.69,10.28 L74.19,10.32 L75.69,10.36 L77.19,10.40 L78.69,10.43 L80.19,10.46 L81.69,10.49 L83.19,10.51 L84.69,10.53 L86.19,10.55 L87.69,10.57 L89.19,10.58 L90.69,10.59 L92.19,10.60 L93.69,10.61 L95.19,10.62 L96.69,10.62 L98.19,10.62 L99.69,10.62 L101.19,10.62 L102.69,10.62 L104.19,10.62 L105.69,10.62 L107.19,10.62 L108.69,10.62 L110.19,10.62 L111.69,10.62 L113.19,10.62 L114.69,10.62 L116.19,10.62 L117.69,10.62 L119.19,10.62 L120.69,10.62 L122.19,10.62 L123.69,10.62 L125.19,10.62 L126.69,10.62 L128.19,10.62 L129.69,10.62 L131.19,10.62 L132.69,10.62 L134.19,10.62 L135.69,10.62 L137.19,10.62 L138.69,10.62 L140.19,10.62 L141.69,10.62 L143.19,10.62 L144.69,10.62 L146.19,10.62 L147.69,10.62 L149.19,10.62 L150.69,10.62 L152.19,10.62 L153.69,10.62 L155.19,10.62 L156.69,10.62 L158.19,10.62 L159.69,10.62 L161.19,10.62 L162.69,10.62 L164.19,10.62 L165.69,10.62 L167.19,10.62 L168.69,10.62 L170.19,10.62 L171.69,10.62 L173.19,10.62 L174.69,10.62 L176.19,10.62 L177.69,10.62 L179.19,10.62 L180.69,10.64 L182.19,10.68 L183.69,10.73 L185.19,10.78 L186.69,10.83 L188.19,10.89 L189.68,10.95 L191.18,11.02 L192.68,11.09 L194.18,11.16 L195.68,11.24 L197.18,11.32 L198.67,11.40 L200.17,11.49 L201.67,11.59 L203.16,11.68 L204.66,11.78 L206.16,11.89 L207.65,12.00 L209.15,12.12 L210.64,12.24 L212.14,12.36 L213.63,12.49 L215.13,12.63 L216.62,12.77 L218.11,12.92 L219.60,13.07 L221.10,13.22 L222.59,13.38 L224.08,13.55 L225.57,13.72 L227.06,13.90 L228.55,14.09 L230.03,14.28 L231.52,14.47 L233.01,14.67 L234.49,14.88 L235.98,15.09 L237.46,15.31 L238.95,15.54 L240.43,15.77 L241.91,16.01 L243.39,16.25 L244.87,16.50 L246.35,16.76 L247.82,17.03 L249.30,17.30 L250.77,17.57 L252.24,17.86 L253.72,18.15 L255.19,18.45 L256.65,18.75 L258.12,19.06 L259.59,19.38 L261.05,19.71 L262.51,20.04 L263.97,20.38 L265.43,20.73 L266.89,21.08 L268.35,21.44 L269.80,21.81 L271.25,22.19 L272.70,22.57 L274.15,22.97 L275.60,23.36 L277.04,23.77 L278.48,24.18 L279.92,24.61 L281.36,25.04 L282.79,25.47 L284.23,25.92 L285.65,26.38 L287.08,26.85 L288.50,27.32 L289.92,27.81 L291.33,28.31 L292.75,28.82 L294.15,29.34 L295.55,29.88 L296.95,30.42 L298.34,30.98 L299.73,31.55 L301.11,32.13 L302.49,32.73 L303.86,33.34 L305.22,33.96 L306.58,34.60 L307.93,35.25 L309.28,35.91 L310.62,36.59 L311.95,37.28 L313.27,37.99 L314.59,38.71 L315.90,39.44 L317.20,40.18 L318.49,40.94 L319.78,41.72 L321.05,42.51 L322.32,43.31 L323.58,44.12 L324.83,44.95 L326.07,45.79 L327.31,46.64 L328.53,47.51 L329.75,48.39 L330.95,49.28 L332.15,50.19 L333.34,51.10 L334.52,52.03 L335.68,52.97 L336.84,53.92 L337.99,54.89 L339.13,55.86 L340.26,56.85 L341.39,57.84 L342.50,58.85 L343.60,59.87 L344.69,60.89 L345.78,61.93 L346.85,62.98 L347.92,64.03 L348.98,65.10 L350.02,66.17 L351.06,67.25 L352.09,68.34 L353.11,69.44 L354.12,70.55 L355.12,71.67 L356.12,72.79 L357.10,73.92 L358.08,75.06 L359.05,76.21 L360.01,77.36 L360.96,78.52 L361.90,79.68 L362.84,80.86 L363.77,82.04 L364.68,83.22 L365.60,84.41 L366.50,85.61 L367.40,86.81 L368.29,88.02 L369.17,89.23 L370.04,90.45 L370.91,91.68 L371.77,92.91 L372.62,94.14 L373.47,95.38 L374.31,96.62 L375.14,97.87 L375.97,99.12 L376.79,100.37 L377.60,101.63 L378.41,102.90 L379.21,104.17 L380.01,105.44 L380.80,106.71 L381.58,107.99 L382.36,109.27 L383.13,110.56 L383.90,111.85 L384.66,113.14 L385.42,114.44 L386.17,115.74 L386.91,117.04 L387.65,118.34 L388.39,119.65 L389.12,120.96 L389.84,122.27 L390.56,123.59 L391.28,124.91 L391.99,126.23 L392.69,127.55 L393.39,128.88 L394.09,130.21 L394.78,131.54 L395.47,132.87 L396.15,134.21 L396.83,135.55 L397.51,136.89 L398.18,138.23 L398.84,139.57 L399.50,140.92 L400.16,142.27 L400.81,143.62 L401.46,144.97 L402.11,146.32 L402.75,147.68 L403.39,149.03 L404.03,150.39 L404.66,151.75 L405.28,153.12 L405.91,154.48 L406.53,155.85 L407.14,157.21 L407.76,158.58 L408.37,159.95 L408.97,161.33 L409.58,162.70 L410.18,164.07 L410.77,165.45 L411.37,166.83 L411.96,168.21 L412.54,169.59 L413.13,170.97 L413.71,172.35 L414.28,173.74 L414.86,175.12 L415.43,176.51 L416.00,177.90 L416.57,179.29 L417.13,180.68 L417.69,182.07 L418.25,183.46 L418.80,184.85 L419.35,186.25 L419.90,187.65 L420.45,189.04 L420.99,190.44 L421.53,191.84 L422.07,193.24 L422.61,194.64 L423.14,196.04 L423.67,197.44 L424.20,198.85 L424.73,200.25 L425.25,201.66 L425.77,203.06 L426.29,204.47 L426.81,205.88 L427.32,207.29 L427.84,208.70 L428.35,210.11 L428.85,211.52 L429.36,212.93 L429.86,214.35 L430.36,215.76 L430.86,217.18 L431.36,218.59 L431.85,220.01 L432.35,221.42 L432.84,222.84 L433.33,224.26 L433.81,225.68 L434.30,227.10 L434.78,228.52 L435.26,229.94 L435.75,231.36 L436.22,232.78 L436.70,234.20 L437.18,235.62 L437.65,237.05 L438.12,238.47 L438.60,239.89 L439.07,241.32 L439.54,242.74 L440.00,244.17 L440.47,245.59 L440.94,247.02 L441.40,248.45 L441.87,249.87 L442.33,251.30 L442.79,252.73 L443.25,254.15 L443.71,255.58 L444.17,257.01 L444.63,258.44 L445.08,259.87 L445.54,261.30 L446.00,262.73 L446.45,264.15 L446.91,265.58 L447.36,267.01 L447.81,268.44 L448.26,269.87 L448.72,271.30 L449.17,272.73 L449.62,274.17 L450.07,275.60 L450.52,277.03 L450.97,278.46 L451.42,279.89 L451.86,281.32 L452.31,282.75 L452.76,284.18 L453.21,285.62 L453.65,287.05 L454.10,288.48 L454.55,289.91 L454.99,291.34 L455.44,292.78 L455.89,294.21 L456.33,295.64 L456.78,297.07 L457.22,298.50 L457.67,299.94 L458.12,301.37 L458.56,302.80 L459.01,304.23 L459.45,305.67 L459.90,307.10 L460.34,308.53 L460.79,309.96 L461.24,311.39 L461.68,312.83 L462.13,314.26 L462.58,315.69 L463.02,317.12 L463.47,318.55 L463.92,319.99 L464.37,321.42 L464.81,322.85 L465.26,324.28 L465.71,325.71 L466.16,327.14 L466.61,328.57 L467.06,330.00 L467.51,331.43 L467.96,332.87 L468.42,334.30 L468.87,335.73 L469.32,337.16 L469.78,338.59 L470.23,340.01 L470.69,341.44 L471.14,342.87 L471.60,344.30 L472.06,345.73 L472.51,347.16 L472.97,348.59 L473.43,350.01 L473.89,351.44 L474.36,352.87 L474.82,354.30 L475.28,355.72 L475.75,357.15 L476.22,358.57 L476.68,360.00 L477.15,361.42 L477.62,362.85 L478.09,364.27 L478.56,365.70 L479.04,367.12 L479.51,368.54 L479.99,369.96 L480.47,371.39 L480.95,372.81 L481.43,374.23 L481.91,375.65 L482.40,377.07 L482.88,378.49 L483.37,379.91 L483.86,381.32 L484.35,382.74 L484.85,384.16 L485.34,385.57 L485.84,386.99 L486.34,388.40 L486.84,389.82 L487.34,391.23 L487.85,392.64 L488.36,394.05 L488.87,395.46 L489.39,396.87 L489.90,398.28 L490.42,399.69 L490.94,401.09 L491.47,402.50 L492.00,403.90 L492.53,405.30 L493.06,406.70 L493.60,408.11 L494.14,409.50 L494.68,410.90 L495.23,412.30 L495.78,413.69 L496.34,415.09 L496.89,416.48 L497.45,417.87 L498.02,419.26 L498.59,420.65 L499.16,422.04 L499.74,423.42 L500.32,424.81 L500.90,426.19 L501.49,427.57 L502.08,428.94 L502.68,430.32 L503.28,431.69 L503.89,433.07 L504.50,434.44 L505.11,435.80 L505.73,437.17 L506.36,438.53 L506.99,439.89 L507.63,441.25 L508.27,442.61 L508.92,443.96 L509.58,445.31 L510.24,446.66 L510.90,448.00 L511.58,449.34 L512.26,450.68 L512.94,452.01 L513.64,453.34 L514.34,454.67 L515.05,455.99 L515.76,457.31 L516.49,458.62 L517.22,459.93 L517.96,461.23 L518.71,462.53 L519.47,463.82 L520.24,465.11 L521.02,466.39 L521.81,467.67 L522.61,468.93 L523.43,470.20 L524.25,471.45 L525.09,472.69 L525.94,473.93 L526.80,475.16 L527.68,476.37 L528.57,477.58 L529.48,478.77 L530.40,479.96 L531.34,481.13 L532.30,482.28 L533.27,483.42 L534.27,484.54 L535.28,485.65 L536.31,486.74 L537.37,487.80 L538.44,488.85 L539.53,489.88 L540.65,490.88 L541.78,491.86 L542.94,492.82 L544.12,493.75 L544.50,494.04" stroke="#0000ff" stroke-dasharray="12.3 8.05 1.6 8.2" stroke-dashoffset="0"/>
<path d="M544.50,494.04 L545.71,494.93 L546.93,495.80 L548.18,496.63 L549.44,497.44 L550.73,498.21 L552.03,498.95 L553.35,499.66 L554.69,500.33 L556.05,500.97 L557.42,501.58 L558.81,502.16 L560.21,502.70 L561.62,503.21 L563.04,503.69 L564.47,504.14 L565.91,504.56 L567.36,504.95 L568.81,505.31 L570.27,505.65 L571.74,505.97 L573.21,506.26 L574.68,506.54 L576.16,506.79 L577.64,507.03 L579.13,507.25 L580.61,507.46 L582.10,507.65 L583.59,507.84 L585.08,508.01 L586.57,508.17 L588.06,508.32 L589.56,508.46 L591.05,508.59 L592.55,508.71 L594.04,508.81 L595.54,508.91 L597.04,509.00 L598.53,509.08 L600.03,509.15 L601.53,509.20 L603.03,509.20 L604.53,509.20 L606.03,509.20 L607.53,509.20 L609.03,509.20 L610.53,509.20 L612.03,509.20 L613.53,509.20 L615.03,509.20 L616.53,509.20 L618.03,509.20 L619.53,509.20 L621.03,509.20 L622.53,509.20 L624.03,509.20 L625.53,509.20 L627.03,509.20 L628.53,509.20 L630.03,509.20 L631.53,509.20 L633.03,509.20 L634.53,509.20 L636.03,509.20 L637.53,509.20 L639.03,509.20 L640.53,509.20 L642.03,509.20 L643.53,509.20 L645.03,509.20 L646.53,509.20 L648.03,509.20 L649.53,509.20 L651.03,509.20 L652.53,509.20 L654.03,509.20 L655.53,509.20 L657.03,509.20 L658.53,509.20 L660.03,509.20 L661.53,509.20 L663.03,509.20 L664.53,509.20 L666.03,509.20 L667.53,509.20 L669.03,509.20 L670.53,509.20 L672.03,509.20 L673.53,509.20 L675.03,509.20 L676.53,509.20 L678.03,509.20 L679.53,509.20 L681.03,509.20 L682.53,509.20 L682.64,509.20" stroke="#0000ff" stroke-dasharray="10.13 8.5 0.8 9.11 11.74 8.02 0.8 8.31 12.5 6.5 3.0 9.4 11.1 4.2 11.8 9.4 0.2 9.3 7.34 80" stroke-dashoffset="-4.97"/>
</g>
<g fill="none" stroke-width="2.8" stroke-linecap="round">
<line x1="526.6" y1="33.2" x2="584.5" y2="33.2" stroke="#ff0000" stroke-dasharray="9.1 7.95 1.6 7.95 1.6 7.95"/>
<line x1="526.6" y1="74.3" x2="584.5" y2="74.3" stroke="#ff00ff" stroke-dasharray="7.1 5.95 0.01 5.95"/>
<line x1="526.6" y1="115.8" x2="584.5" y2="115.8" stroke="#00ff00" stroke-dasharray="4.0 6.9"/>
<line x1="526.6" y1="157.2" x2="584.5" y2="157.2" stroke="#0000ff" stroke-dasharray="12.3 8.05 1.6 8.2"/>
</g>
<text class="m i" transform="translate(593,41.9) scale(1.26,1)">α</text>
<text class="m" x="606.9" y="41.9"><tspan class="s" dy="7.2">av</tspan><tspan dy="-7.2">=5</tspan></text>
<text class="m i" transform="translate(593,82.9) scale(1.26,1)">α</text>
<text class="m" x="606.9" y="82.9"><tspan class="s" dy="7.2">av</tspan><tspan dy="-7.2">=10</tspan></text>
<text class="m i" transform="translate(593,124.0) scale(1.26,1)">α</text>
<text class="m" x="606.9" y="124.0"><tspan class="s" dy="7.2">av</tspan><tspan dy="-7.2">=15</tspan></text>
<text class="m i" transform="translate(593,165.3) scale(1.26,1)">α</text>
<text class="m" x="606.9" y="165.3"><tspan class="s" dy="7.2">av</tspan><tspan dy="-7.2">=20</tspan></text>
<text class="t" transform="translate(60.40,536.9) scale(0.965,1.075)" text-anchor="middle">0.001</text>
<text class="t" transform="translate(267.55,536.9) scale(0.965,1.075)" text-anchor="middle">0.01</text>
<text class="t" transform="translate(474.70,536.9) scale(0.965,1.075)" text-anchor="middle">0.1</text>
<text class="t" transform="translate(683.05,536.9) scale(0.965,1.075)" text-anchor="middle">1</text>
<text class="t" transform="translate(50.5,15.10) scale(0.965,1.075)" text-anchor="end">0.0</text>
<text class="t" transform="translate(50.5,115.23) scale(0.965,1.075)" text-anchor="end">0.2</text>
<text class="t" transform="translate(50.5,215.36) scale(0.965,1.075)" text-anchor="end">0.4</text>
<text class="t" transform="translate(50.5,315.49) scale(0.965,1.075)" text-anchor="end">0.6</text>
<text class="t" transform="translate(50.5,415.62) scale(0.965,1.075)" text-anchor="end">0.8</text>
<text class="t" transform="translate(50.5,515.75) scale(0.965,1.075)" text-anchor="end">1.0</text>
<text class="m" x="365.1" y="560.2"><tspan class="i">T</tspan><tspan class="s" dy="7.3" dx="-0.9">h</tspan></text>
<text class="m i" style="font-size:27px" transform="translate(17.6,267.6) rotate(-90) skewX(-4.5)" x="0" y="0">U</text>
<text class="m" x="90.9" y="283"><tspan class="i">k</tspan><tspan class="s" dy="6.8">h</tspan><tspan dy="-6.8">/</tspan><tspan class="i">k</tspan><tspan class="s" dy="6.8">v</tspan><tspan dy="-6.8">=2, </tspan><tspan class="i">k</tspan><tspan class="s" dy="6.8">s</tspan><tspan dy="-6.8">/</tspan><tspan class="i">k</tspan><tspan class="s" dy="6.8">h</tspan><tspan dy="-6.8">=0.2,</tspan></text>
<text class="m" x="91.0" y="321.2"><tspan class="i">A</tspan><tspan class="s" dy="6.8">e</tspan><tspan dy="-6.8">/</tspan><tspan class="i">A</tspan><tspan class="s" dy="6.8">d</tspan><tspan dy="-6.8">=100, </tspan><tspan class="i">R</tspan><tspan class="s" dy="6.8">e</tspan><tspan dy="-6.8">/</tspan><tspan class="i">r</tspan><tspan class="s" dy="6.8">p</tspan><tspan dy="-6.8">=5,</tspan></text>
<text class="m" x="91.0" y="358.7"><tspan class="i">H</tspan><tspan>/</tspan><tspan class="i">R</tspan><tspan class="s" dy="6.8">e</tspan><tspan dy="-6.8">=10,  </tspan><tspan class="i">A</tspan><tspan class="s" dy="6.8">sd</tspan><tspan dy="-6.8">/</tspan><tspan class="i">A</tspan><tspan class="s" dy="6.8">d</tspan><tspan dy="-6.8">=4,</tspan></text>
<text class="m" x="91.0" y="397.2"><tspan class="i">λ</tspan><tspan class="s" dy="6.8">v1</tspan><tspan dy="-6.8">=0.5, </tspan><tspan class="i">λ</tspan><tspan class="s" dy="6.8">v2</tspan><tspan dy="-6.8">=0.5,</tspan></text>
<text class="m" x="97.5" y="434.5"><tspan class="i">λ</tspan><tspan class="s" dy="6.8">b</tspan><tspan dy="-6.8">=0.6, </tspan><tspan class="i">p</tspan><tspan class="s" dy="6.8">vu</tspan><tspan dy="-6.8">/</tspan><tspan class="i">p</tspan><tspan class="s" dy="6.8">bu</tspan><tspan dy="-6.8">=4</tspan></text>
<text class="m i" transform="translate(91.8,476.5) scale(1.22,1)">μ</text>
<text class="m" x="105.3" y="476.5">=0.4</text>
</svg></body></html>
